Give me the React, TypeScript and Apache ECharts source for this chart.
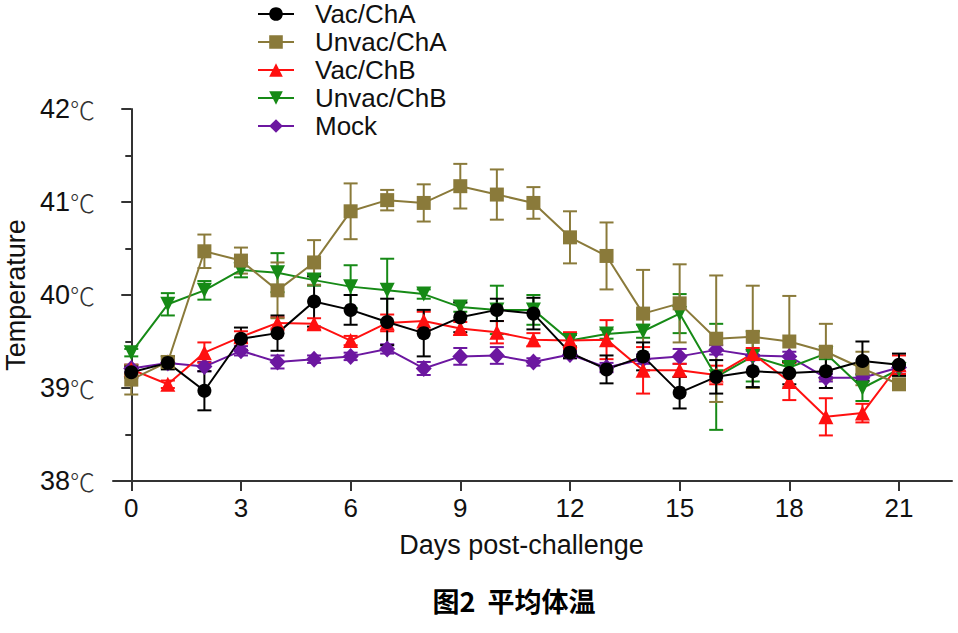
import React, { useEffect, useRef } from "react";
import * as echarts from "echarts";

const days = [0, 1, 2, 3, 4, 5, 6, 7, 8, 9, 10, 11, 12, 13, 14, 15, 16, 17, 18, 19, 20, 21];
const xTicks = [0, 3, 6, 9, 12, 15, 18, 21];
const seriesNames = ["Vac/ChA", "Unvac/ChA", "Vac/ChB", "Unvac/ChB", "Mock"];

const vacChA = [39.17, 39.27, 38.97, 39.53, 39.59, 39.93, 39.84, 39.71, 39.59, 39.76, 39.84, 39.80, 39.38, 39.20, 39.34, 38.95, 39.12, 39.18, 39.16, 39.18, 39.29, 39.25];
const vacChAErr = [0.06, 0.07, 0.21, 0.12, 0.19, 0.27, 0.16, 0.25, 0.25, 0.16, 0.12, 0.17, 0.06, 0.15, 0.15, 0.17, 0.18, 0.17, 0.12, 0.18, 0.21, 0.12];

const unvacChA = [39.09, 39.28, 40.47, 40.37, 40.05, 40.35, 40.90, 41.02, 40.99, 41.17, 41.08, 40.99, 40.62, 40.42, 39.80, 39.91, 39.53, 39.55, 39.50, 39.39, 39.21, 39.04];
const unvacChAErr = [0.16, 0.06, 0.18, 0.14, 0.30, 0.24, 0.30, 0.11, 0.20, 0.24, 0.27, 0.17, 0.28, 0.36, 0.47, 0.42, 0.68, 0.55, 0.49, 0.30, 0.18, 0.05];

const vacChB = [39.20, 39.04, 39.38, 39.55, 39.70, 39.69, 39.51, 39.70, 39.72, 39.64, 39.60, 39.52, 39.51, 39.52, 39.19, 39.19, 39.14, 39.37, 39.07, 38.69, 38.73, 39.25];
const vacChBErr = [0.05, 0.04, 0.11, 0.06, 0.06, 0.06, 0.05, 0.09, 0.10, 0.07, 0.12, 0.07, 0.09, 0.21, 0.25, 0.07, 0.10, 0.06, 0.20, 0.20, 0.10, 0.10];

const unvacChB = [39.38, 39.90, 40.05, 40.27, 40.24, 40.16, 40.09, 40.05, 40.01, 39.87, 39.84, 39.84, 39.51, 39.58, 39.61, 39.80, 39.12, 39.34, 39.22, 39.37, 39.00, 39.20];
const unvacChBErr = [0.04, 0.12, 0.10, 0.08, 0.21, 0.06, 0.23, 0.34, 0.05, 0.05, 0.26, 0.16, 0.06, 0.05, 0.07, 0.21, 0.57, 0.27, 0.06, 0.06, 0.14, 0.05];

const mock = [39.21, 39.27, 39.23, 39.40, 39.28, 39.31, 39.34, 39.42, 39.21, 39.34, 39.35, 39.28, 39.36, 39.22, 39.31, 39.34, 39.41, 39.35, 39.34, 39.11, 39.11, 39.22];
const mockErr = [0.04, 0.04, 0.05, 0.05, 0.07, 0.04, 0.04, 0.05, 0.07, 0.09, 0.09, 0.04, 0.04, 0.05, 0.05, 0.08, 0.05, 0.05, 0.05, 0.04, 0.04, 0.04];

const FONT = '"Liberation Sans", Arial, "Noto Sans CJK SC", sans-serif';
const CJK = '"Noto Sans CJK SC", sans-serif';

type Def = { name: string; values: number[]; errs: number[]; color: string; symbol: string; size: number | number[]; rotate?: number };

const defs: Def[] = [
  { name: "Mock", values: mock, errs: mockErr, color: "#6c17a0", symbol: "diamond", size: [16, 17] },
  { name: "Unvac/ChB", values: unvacChB, errs: unvacChBErr, color: "#168a16", symbol: "triangle", size: 15, rotate: 180 },
  { name: "Vac/ChB", values: vacChB, errs: vacChBErr, color: "#ff1010", symbol: "triangle", size: 15 },
  { name: "Unvac/ChA", values: unvacChA, errs: unvacChAErr, color: "#8a7a3a", symbol: "rect", size: 14 },
  { name: "Vac/ChA", values: vacChA, errs: vacChAErr, color: "#000000", symbol: "circle", size: 14 },
];

function buildSeries() {
  const out: any[] = [];
  defs.forEach((d) => {
    out.push({
      type: "custom",
      name: "err-" + d.name,
      data: days.map((x, i) => [x, d.values[i], d.errs[i]]),
      encode: { x: 0, y: 1 },
      renderItem: (params: any, api: any) => {
        const x = api.value(0);
        const y = api.value(1);
        const e = api.value(2);
        const top = api.coord([x, y + e]);
        const bot = api.coord([x, y - e]);
        const hw = 7;
        const style = { stroke: d.color, lineWidth: 2 };
        return {
          type: "group",
          children: [
            { type: "line", shape: { x1: top[0], y1: top[1], x2: bot[0], y2: bot[1] }, style },
            { type: "line", shape: { x1: top[0] - hw, y1: top[1], x2: top[0] + hw, y2: top[1] }, style },
            { type: "line", shape: { x1: bot[0] - hw, y1: bot[1], x2: bot[0] + hw, y2: bot[1] }, style },
          ],
        };
      },
      silent: true,
    });
    out.push({
      type: "line",
      name: d.name,
      data: days.map((x, i) => [x, d.values[i]]),
      symbol: d.symbol,
      symbolSize: d.size,
      symbolRotate: d.rotate || 0,
      showAllSymbol: true,
      lineStyle: { color: d.color, width: 2 },
      itemStyle: { color: d.color, borderWidth: 0 },
    });
  });
  return out;
}

export default function App() {
  const ref = useRef<HTMLDivElement>(null);
  useEffect(() => {
    if (!ref.current) return;
    const chart = echarts.init(ref.current, null, { renderer: "svg" });
    chart.setOption({
      animation: false,
      backgroundColor: "#ffffff",
      textStyle: { fontFamily: FONT },
      legend: {
        data: seriesNames,
        orient: "vertical",
        left: 257,
        top: 1,
        padding: 0,
        itemWidth: 36,
        itemHeight: 17,
        itemGap: 2,
        selectedMode: false,
        textStyle: { fontSize: 26, lineHeight: 26, color: "#111", fontFamily: FONT, padding: [0, 0, 0, 16] },
      },
      grid: { left: 113, right: 6, top: 109, bottom: 152, containLabel: false, outerBoundsMode: "none" },
      xAxis: {
        type: "value",
        min: -0.5,
        max: 22.45,
        name: "Days post-challenge",
        nameLocation: "middle",
        nameGap: 50,
        nameTextStyle: { fontSize: 27, color: "#111", fontFamily: FONT, padding: [0, 22, 0, 0] },
        axisLine: { show: true, lineStyle: { color: "#333", width: 2 } },
        axisTick: { show: true, length: 10, lineStyle: { color: "#333", width: 2 }, customValues: xTicks },
        axisLabel: { fontSize: 26, color: "#111", margin: 14, customValues: xTicks },
        splitLine: { show: false },
      },
      yAxis: {
        type: "value",
        min: 38,
        max: 42,
        interval: 1,
        name: "Temperature",
        nameLocation: "middle",
        nameGap: 80,
        nameRotate: 90,
        nameTextStyle: { fontSize: 27, color: "#111", fontFamily: FONT },
        axisLine: { show: true, lineStyle: { color: "#333", width: 2 } },
        axisTick: { show: true, length: 10, lineStyle: { color: "#333", width: 2 } },
        minorTick: { show: true, splitNumber: 2, length: 6, lineStyle: { color: "#333", width: 2 } },
        axisLabel: {
          color: "#111",
          margin: 18,
          formatter: (v: number) => "{n|" + v + "}{c|℃}",
          rich: {
            n: { fontSize: 27, fontFamily: FONT, color: "#111" },
            c: { fontSize: 25, fontFamily: CJK, color: "#333", fontWeight: 300 },
          },
        },
        splitLine: { show: false },
      },
      graphic: [
        {
          type: "text",
          x: 514,
          y: 600,
          style: {
            text: "图2  平均体温",
            font: 'bold 27px "Noto Sans CJK SC", sans-serif',
            fill: "#000",
            textAlign: "center",
            textVerticalAlign: "middle",
          },
        },
      ],
      series: buildSeries(),
    });
    return () => chart.dispose();
  }, []);
  return (
    <div
      ref={ref}
      style={{ position: "fixed", left: 0, top: 0, width: 958, height: 633, background: "#fff" }}
    />
  );
}
